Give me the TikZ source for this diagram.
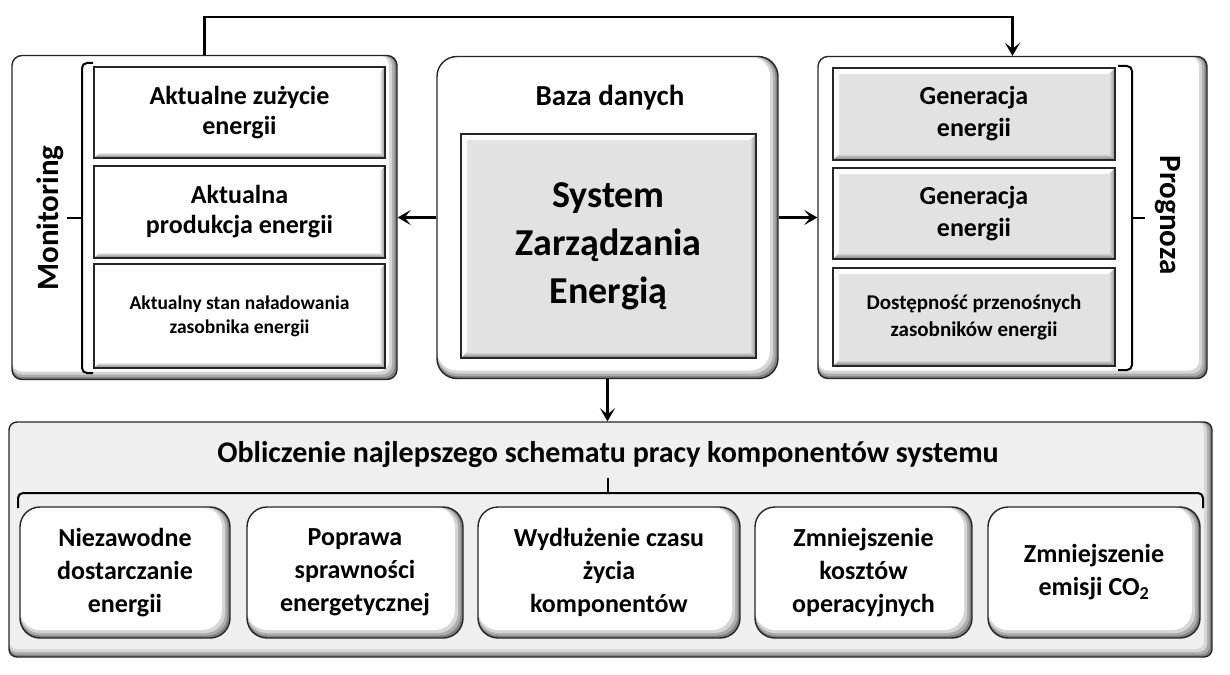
\documentclass[tikz,border=0pt]{standalone}
\usepackage{fontspec}
\setmainfont{Carlito}
\usetikzlibrary{calc,arrows.meta}
\definecolor{facegray}{HTML}{E2E2E2}
\definecolor{botgray}{HTML}{EFEFEF}
\tikzset{
  softbox/.style n args={2}{rounded corners=#1, draw=black!85, fill=#2, line width=1.4pt,
    inner sep=0pt, align=center,
    path picture={
      \fill[black!50] (path picture bounding box.north west) rectangle (path picture bounding box.south east);
      \fill[black!32, rounded corners=#1] (path picture bounding box.north west) rectangle ($(path picture bounding box.south east)+(-2.5,-2.5)$);
      \fill[black!16, rounded corners=#1] (path picture bounding box.north west) rectangle ($(path picture bounding box.south east)+(-5,-5)$);
      \fill[#2, rounded corners=#1] (path picture bounding box.north west) rectangle ($(path picture bounding box.south east)+(-8,-8)$);
    }},
  bevelbox/.style={draw=black!85, line width=1.5pt, fill=#1, inner sep=0pt, align=center,
    path picture={
      \coordinate (@nw) at (path picture bounding box.north west);
      \coordinate (@ne) at (path picture bounding box.north east);
      \coordinate (@sw) at (path picture bounding box.south west);
      \coordinate (@se) at (path picture bounding box.south east);
      \fill[white] (@nw) -- (@ne) -- ($(@ne)+(-6,6)$) -- ($(@nw)+(6,6)$) -- cycle;
      \fill[white!85!#1] (@nw) -- (@sw) -- ($(@sw)+(6,-6)$) -- ($(@nw)+(6,6)$) -- cycle;
      \shade[top color=#1, bottom color=black!55] (@sw) -- (@se) -- ($(@se)+(-6,-6)$) -- ($(@sw)+(6,-6)$) -- cycle;
      \shade[left color=#1, right color=black!45] (@se) -- (@ne) -- ($(@ne)+(-6,6)$) -- ($(@se)+(-6,-6)$) -- cycle;
    }},
  bigtxt/.style={font=\bfseries\fontsize{26}{30}\selectfont},
  smalltxt/.style={font=\bfseries\fontsize{19.5}{24}\selectfont},
  arr/.style={line width=2.5pt, -{Stealth[length=13pt,width=15pt,inset=6pt]}},
  brk/.style={line width=2pt, rounded corners=5pt},
}
\begin{document}
\begin{tikzpicture}[x=1pt,y=-1pt]
\useasboundingbox (0,0) rectangle (1230,674);

% ---------- outer boxes ----------
\node[softbox={10pt}{white}, minimum width=385pt, minimum height=324pt] (mon) at (204.5,217.5) {};
\node[softbox={20pt}{white}, minimum width=341pt, minimum height=322pt] (db) at (607.5,217.5) {};
\node[softbox={10pt}{white}, minimum width=389pt, minimum height=322pt] (prog) at (1012.5,217.5) {};

% ---------- monitoring ----------
\node[bevelbox=white, minimum width=291pt, minimum height=91pt, bigtxt] (m1) at (239.5,112.5) {Aktualne zużycie\\energii};
\node[bevelbox=white, minimum width=291pt, minimum height=92pt, bigtxt] (m2) at (239.5,212) {Aktualna\\produkcja energii};
\node[bevelbox=white, minimum width=291pt, minimum height=104pt, smalltxt] (m3) at (239.5,316) {Aktualny stan naładowania\\zasobnika energii};
\draw[brk] (93,63) -- (82,63) -- (82,373) -- (93,373);
\draw[line width=2pt] (82,218) -- (67,218);
\node[rotate=90, font=\bfseries\fontsize{31}{36}\selectfont] (monlbl) at (50,218) {Monitoring};

% ---------- database ----------
\node[font=\bfseries\fontsize{29}{34}\selectfont] (dbtitle) at (610,98) {Baza danych};
\node[bevelbox=facegray, minimum width=295pt, minimum height=224pt, font=\bfseries\fontsize{38}{48}\selectfont] (sys) at (608.5,246) {System\\Zarządzania\\Energią};

% ---------- forecast ----------
\node[bevelbox=facegray, minimum width=282pt, minimum height=92pt, font=\bfseries\fontsize{26}{32}\selectfont] (p1) at (974,114) {Generacja\\energii};
\node[bevelbox=facegray, minimum width=282pt, minimum height=91pt, font=\bfseries\fontsize{26}{32}\selectfont] (p2) at (974,213.5) {Generacja\\energii};
\node[bevelbox=facegray, minimum width=282pt, minimum height=98pt, font=\bfseries\fontsize{21}{27}\selectfont] (p3) at (974,317) {Dostępność przenośnych\\zasobników energii};
\draw[brk] (1118,66) -- (1132,66) -- (1132,370) -- (1118,370);
\draw[line width=2pt] (1132,218) -- (1145,218);
\node[rotate=-90, font=\bfseries\fontsize{31}{36}\selectfont] (proglbl) at (1168,215) {Prognoza};

% ---------- bottom ----------
\node[softbox={8pt}{botgray}, minimum width=1203pt, minimum height=235pt] (bot) at (610.5,539.5) {};
\node[font=\bfseries\fontsize{30}{36}\selectfont] (title) at (608,455) {Obliczenie najlepszego schematu pracy komponentów systemu};
\draw[brk] (18,508) -- (18,493) -- (1203,493) -- (1203,508);
\draw[line width=2pt] (608,493) -- (608,478);

\tikzset{smallbox/.style={softbox={20pt}{white}, minimum height=131pt, font=\bfseries\fontsize{26}{33}\selectfont}}
\node[smallbox, minimum width=210pt] (b1) at (125,572.5) {Niezawodne\\dostarczanie\\energii};
\node[smallbox, minimum width=216pt] (b2) at (355,572.5) {Poprawa\\sprawności\\energetycznej};
\node[smallbox, minimum width=262pt] (b3) at (609,572.5) {Wydłużenie czasu\\życia\\komponentów};
\node[smallbox, minimum width=217pt] (b4) at (863.5,572.5) {Zmniejszenie\\kosztów\\operacyjnych};
\node[smallbox, minimum width=212pt] (b5) at (1094,572.5) {Zmniejszenie\\emisji CO\textsubscript{2}};

% ---------- connectors ----------
\coordinate (topline) at (0,17);
\draw[arr] (mon.north) |- (topline -| prog.north) -- (prog.north);
\draw[arr] (db.west) -- (mon.east);
\draw[arr] (db.east) -- (prog.west);
\draw[arr] (db.south) -- (db.south |- bot.north);
\end{tikzpicture}
\end{document}
